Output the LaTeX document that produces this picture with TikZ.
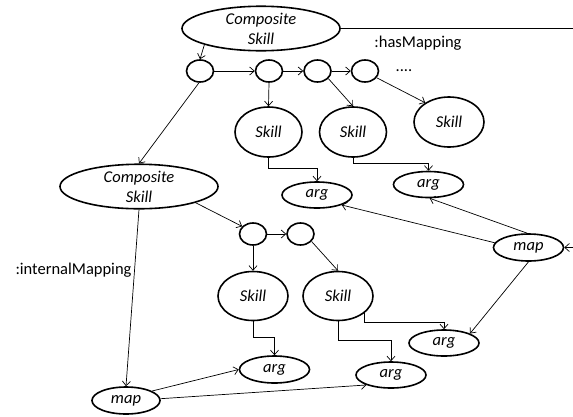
\documentclass[tikz,border=0pt]{standalone}
\usepackage{fontspec}
\setmainfont{Carlito}
\usetikzlibrary{arrows.meta,shapes.geometric}
\begin{document}
\begin{tikzpicture}[x=1pt,y=-1pt,
  font=\fontsize{16.5}{20}\selectfont,
  el/.style={draw, ellipse, line width=1.6pt, inner sep=0pt, align=center, font=\fontsize{16.5}{20}\selectfont\itshape},
  big/.style={el, minimum width=158pt, minimum height=43pt},
  circ/.style={el, minimum width=27pt, minimum height=22pt},
  skill/.style={el, minimum width=67pt, minimum height=50pt},
  argbox/.style={el, minimum width=70pt, minimum height=26pt},
  conn/.style={line width=0.7pt},
  arr/.style={conn, -{Straight Barb[length=4.5pt,width=8pt]}}]
\useasboundingbox (0,0) rectangle (573,416);
% nodes
\node[big] (cs1) at (261,28.5) {Composite\\Skill};
\node[circ] (c1) at (200,71) {};
\node[circ] (c2) at (269,71) {};
\node[circ] (c3) at (317.5,71) {};
\node[circ] (c4) at (365,71) {};
\node[inner sep=0pt] (dots) at (404,71) {....};
\node (hm) at (418,43) {:hasMapping};
\node[skill] (sk1) at (268.5,132) {Skill};
\node[skill] (sk2) at (353,132) {Skill};
\node[skill, minimum width=70pt] (sk3) at (449,122) {Skill};
\node[argbox] (arg1) at (317,195) {arg};
\node[argbox] (arg2) at (428.5,184.5) {arg};
\node[argbox, minimum height=27pt] (map1) at (528.5,247.5) {map};
\node[big] (cs2) at (139,186.5) {Composite\\Skill};
\node[circ] (c5) at (253,234) {};
\node[circ] (c6) at (300.5,234) {};
\node[skill, minimum width=70pt, minimum height=49pt] (sk4) at (253,296) {Skill};
\node[skill, minimum width=70pt, minimum height=49pt] (sk5) at (338,296) {Skill};
\node[argbox] (arg3) at (444,343) {arg};
\node[argbox, minimum height=27pt] (arg4) at (274.5,369.5) {arg};
\node[argbox] (arg5) at (391,375) {arg};
\node[argbox, minimum width=68pt, minimum height=27pt] (map2) at (126,400.5) {map};
\node (im) at (73.5,270) {:internalMapping};
\coordinate (outA) at (573,28.5);
\coordinate (outB) at (573,247.5);
% connectors
\draw[conn] (cs1.east) -- (outA);
\draw[arr] (cs1.196) -- (c1.north);
\draw[arr] (c1.east) -- (c2.west);
\draw[arr] (c2.east) -- (c3.west);
\draw[arr] (c3.east) -- (c4.west);
\draw[arr] (c2.south) -- (sk1.north);
\draw[arr] (c3.-35) -- (sk2.north);
\draw[arr] (c4.-30) -- (sk3.141);
\draw[arr] (c1.265) -- (cs2.north);
\draw[arr] (sk1.south) -- ++(0,11) -| (arg1.north);
\draw[arr] (sk2.south) -- ++(0,6) -| (arg2.north);
\draw[arr] (map1.172) -- (arg1.-22);
\draw[arr] (map1.95) -- (arg2.-85);
\draw[arr] (outB) -- (map1.east);
\draw[arr] (map1.south) -- (arg3.20);
\draw[arr] (cs2.-16) -- (c5.145);
\draw[arr] (c5.east) -- (c6.west);
\draw[arr] (c5.south) -- (sk4.north);
\draw[arr] (c6.-34) -- (sk5.north);
\draw[arr] (sk4.south) -- ++(0,16.5) -| (arg4.north);
\draw[arr] (sk5.south) -- ++(0,19.5) -| (arg5.north);
\draw[arr] (sk5.-34) -- ++(0,9) -| (arg3.north);
\draw[arr] (cs2.south) -- (map2.north);
\draw[arr] (map2.20) -- (arg4.west);
\draw[arr] (map2.3) -- (arg5.202);
\end{tikzpicture}
\end{document}
